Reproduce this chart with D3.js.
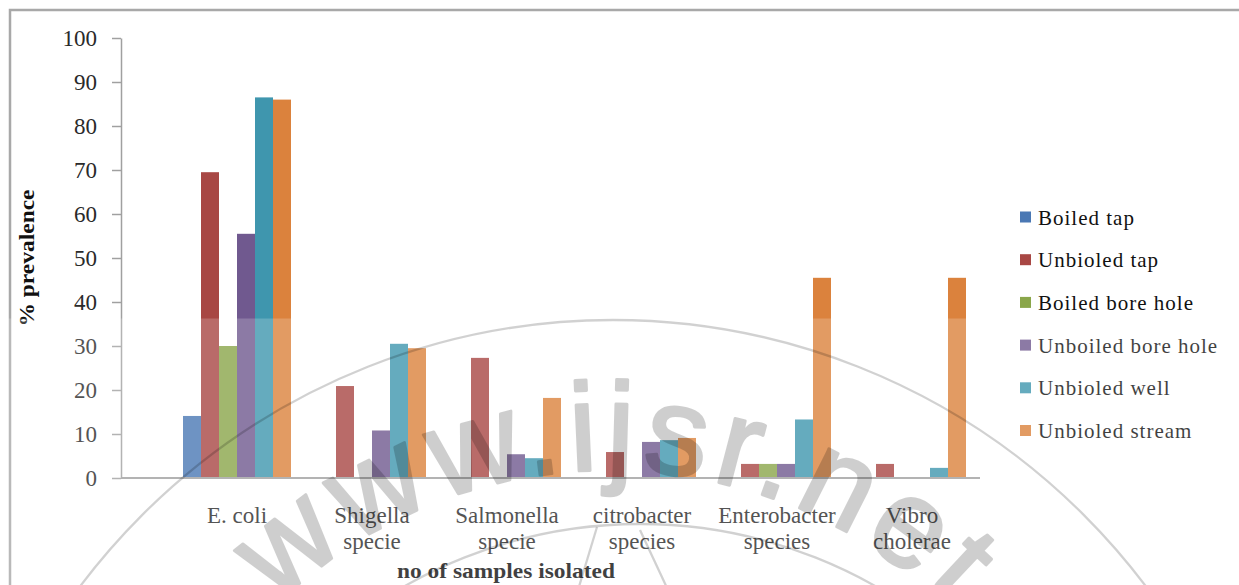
<!DOCTYPE html>
<html>
<head>
<meta charset="utf-8">
<script src="https://cdn.jsdelivr.net/npm/d3@7"></script>
<style>
  html, body { margin: 0; padding: 0; background: #fff; overflow: hidden; }
  svg { display: block; }
</style>
</head>
<body>
<svg id="chart" width="1239" height="585"></svg>
<script>
// Organisms isolated (x categories), each drawn on one or two lines
const categories = ["E. coli", "Shigella specie", "Salmonella specie", "citrobacter species", "Enterobacter species", "Vibro cholerae"];
const categoryLines = [["E. coli"], ["Shigella", "specie"], ["Salmonella", "specie"], ["citrobacter", "species"], ["Enterobacter", "species"], ["Vibro", "cholerae"]];

// Water sources (series)
const seriesNames = ["Boiled tap", "Unbioled tap", "Boiled bore hole", "Unboiled bore hole", "Unbioled well", "Unbioled stream"];

// % prevalence per organism, one array per water source
const boiledTap        = [14.1, 0, 0, 0, 0, 0];
const unboiledTap      = [69.5, 20.9, 27.3, 5.9, 3.2, 3.2];
const boiledBoreHole   = [30.0, 0, 0, 0, 3.2, 0];
const unboiledBoreHole = [55.5, 10.8, 5.4, 8.2, 3.2, 0];
const unboiledWell     = [86.5, 30.5, 4.5, 8.6, 13.3, 2.3];
const unboiledStream   = [86.0, 29.5, 18.2, 9.1, 45.5, 45.5];

const yTicks = [0, 10, 20, 30, 40, 50, 60, 70, 80, 90, 100];

const seriesValues = [boiledTap, unboiledTap, boiledBoreHole, unboiledBoreHole, unboiledWell, unboiledStream];
const seriesColors = ["#4a78b4", "#a84744", "#8aa64a", "#70598f", "#3f96ae", "#db823d"];

const svg = d3.select("#chart");
const W = 1239, H = 585;
const serif = "'Liberation Serif', 'Times New Roman', serif";

// outer frame
svg.append("rect")
  .attr("x", 10).attr("y", 10)
  .attr("width", W + 40).attr("height", H + 40)
  .attr("fill", "#fff").attr("stroke", "#a8a8a8").attr("stroke-width", 2.5);

const plot = { left: 121, right: 980, top: 38, bottom: 478 };

const x0 = d3.scaleBand().domain(categories)
  .range([plot.left + 48.5, plot.right - 0.5])
  .paddingInner(0.2).paddingOuter(0.1);
const x1 = d3.scaleBand().domain(seriesNames).range([0, x0.bandwidth()]);
const y = d3.scaleLinear().domain([0, 100]).range([plot.bottom, plot.top]);

// bars
const rows = categories.map((c, ci) => ({
  cat: c,
  vals: seriesNames.map((s, si) => ({ name: s, value: seriesValues[si][ci], color: seriesColors[si] }))
}));

const groups = svg.append("g").selectAll("g").data(rows).join("g")
  .attr("transform", d => `translate(${x0(d.cat)},0)`);
groups.selectAll("rect").data(d => d.vals.filter(v => v.value > 0)).join("rect")
  .attr("x", d => x1(d.name))
  .attr("y", d => y(d.value))
  .attr("width", x1.bandwidth())
  .attr("height", d => y(0) - y(d.value))
  .attr("fill", d => d.color);

// y axis
const yAxis = svg.append("g")
  .attr("transform", `translate(${plot.left},0)`)
  .call(d3.axisLeft(y).tickValues(yTicks).tickSize(9).tickSizeOuter(0).tickPadding(15));
yAxis.select(".domain").attr("stroke", "#a0a0a0").attr("stroke-width", 1.5);
yAxis.selectAll(".tick line").attr("stroke", "#a0a0a0").attr("stroke-width", 1.5);
yAxis.selectAll(".tick text")
  .attr("font-family", serif).attr("font-size", 23).attr("fill", "#2a2a2a")
  .attr("dy", "0.33em");

// x axis
svg.append("line")
  .attr("x1", plot.left).attr("x2", plot.right)
  .attr("y1", y(0)).attr("y2", y(0))
  .attr("stroke", "#a0a0a0").attr("stroke-width", 1.8);

const xAxis = svg.append("g")
  .attr("transform", `translate(0,${plot.bottom})`)
  .call(d3.axisBottom(x0).tickSize(0).tickFormat(""));
xAxis.select(".domain").remove();
xAxis.selectAll(".tick text").remove();
xAxis.selectAll(".tick").each(function (d, i) {
  const t = d3.select(this).append("text")
    .attr("font-family", serif).attr("font-size", 23).attr("fill", "#2a2a2a")
    .attr("text-anchor", "middle");
  categoryLines[i].forEach((line, li) => {
    t.append("tspan").attr("x", 0).attr("y", 45 + li * 26).text(line);
  });
});

// axis titles
svg.append("text")
  .attr("x", 506).attr("y", 578)
  .attr("text-anchor", "middle")
  .attr("font-family", serif).attr("font-weight", "bold").attr("font-size", 22)
  .attr("textLength", 218).attr("lengthAdjust", "spacingAndGlyphs")
  .attr("fill", "#111")
  .text("no of samples isolated");

svg.append("text")
  .attr("transform", "translate(34,258) rotate(-90)")
  .attr("text-anchor", "middle")
  .attr("font-family", serif).attr("font-weight", "bold").attr("font-size", 22)
  .attr("textLength", 137).attr("lengthAdjust", "spacingAndGlyphs")
  .attr("fill", "#111")
  .text("% prevalence");

// legend
const legend = svg.append("g").attr("transform", "translate(1020,217)");
const li = legend.selectAll("g").data(seriesNames).join("g")
  .attr("transform", (d, i) => `translate(0,${i * 42.7})`);
li.append("rect").attr("x", 0).attr("y", -5.5).attr("width", 11).attr("height", 11)
  .attr("fill", (d, i) => seriesColors[i]);
li.append("text").attr("x", 18).attr("y", 7.5)
  .attr("font-family", serif).attr("font-size", 21).attr("letter-spacing", 1)
  .attr("fill", "#111")
  .text(d => d);

// publisher watermark: faded lower band, circular seal and lettering
svg.append("rect")
  .attr("x", 0).attr("y", 318.5).attr("width", W).attr("height", H - 318.5)
  .attr("fill", "#fff").attr("fill-opacity", 0.2);

const ring = svg.append("g").attr("pointer-events", "none")
  .attr("stroke", "#000").attr("stroke-opacity", 0.18).attr("stroke-width", 2.3).attr("fill", "none");
ring.append("circle").attr("cx", 613).attr("cy", 986).attr("r", 666);
ring.append("circle").attr("cx", 640).attr("cy", 1000).attr("r", 476);
[[597, 527, 578, 590], [640, 530, 668, 590]].forEach(s => {
  ring.append("line").attr("x1", s[0]).attr("y1", s[1]).attr("x2", s[2]).attr("y2", s[3]);
});

const arcC = { x: 610, y: 950, r: 480 };
const rad = a => a * Math.PI / 180;
const pt = a => [arcC.x + arcC.r * Math.sin(rad(a)), arcC.y - arcC.r * Math.cos(rad(a))];
const p0 = pt(-80), p1 = pt(80);
svg.append("path").attr("id", "sealArc")
  .attr("d", `M${p0[0]},${p0[1]} A${arcC.r},${arcC.r} 0 0 1 ${p1[0]},${p1[1]}`)
  .attr("fill", "none");
svg.append("g").attr("opacity", 0.19).attr("pointer-events", "none")
  .append("text")
  .attr("font-family", "'Liberation Sans', Arial, sans-serif")
  .attr("font-size", 125).attr("letter-spacing", 7.5)
  .attr("fill", "#000").attr("stroke", "#000").attr("stroke-width", 3)
  .attr("stroke-linejoin", "round")
  .append("textPath").attr("href", "#sealArc").attr("startOffset", 302)
  .text("www.ijsr.net");
</script>
</body>
</html>
